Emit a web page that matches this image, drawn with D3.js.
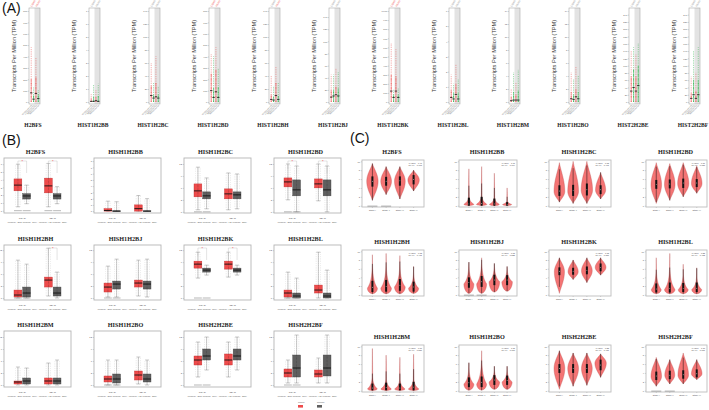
<!DOCTYPE html>
<html><head><meta charset="utf-8">
<script src="https://cdn.jsdelivr.net/npm/d3@7"></script>
<style>body{margin:0;background:#fff}svg{display:block}</style>
</head><body><svg id="c" width="709" height="410"></svg>
<script>
// ================= DATA =================
// Panel A (GEPIA dot plots, TPM)
const genesA = ["H2BFS","HIST1H2BB","HIST1H2BC","HIST1H2BD","HIST1H2BH","HIST1H2BJ","HIST1H2BK","HIST1H2BL","HIST1H2BM","HIST1H2BO","HIST2H2BE","HIST2H2BF"];
const aCancers = ["COAD","READ"];
const aSig = [[1,1],[0,0],[0,0],[1,1],[0,1],[0,0],[1,1],[0,0],[0,0],[0,0],[0,0],[0,0]];
const aYMax = [800,7,140,800,140,150,1000,6,14,14,250,250];
// columns: COAD tumor, COAD normal, READ tumor, READ normal
const aMedian = [[80,25,75,30],[0.05,0.05,0.1,0.05],[10,6,8,6],[100,40,90,40],[4,3,10,4],[8,10,12,10],[120,50,120,50],[0.3,0.2,0.5,0.2],[0.2,0.3,0.3,0.3],[0.5,0.4,0.8,0.5],[30,40,30,45],[10,20,10,20]];
const aDense  = [[200,60,220,70],[0.3,0.4,0.4,0.5],[25,12,30,12],[250,120,280,130],[12,8,30,10],[20,20,25,22],[300,80,280,80],[0.8,0.6,1.2,0.6],[0.8,1.5,1.2,1.8],[1.5,1.2,2,1.5],[70,90,70,100],[25,60,30,60]];
const aMax    = [[480,130,390,110],[0.6,1.3,0.9,1.4],[60,30,70,25],[420,400,480,300],[40,25,55,30],[45,45,55,50],[650,140,580,150],[1.8,1.2,2.5,1.5],[2,4.5,3,5],[4.5,3.5,5.5,4],[140,150,130,160],[70,140,80,150]];
const aXLabels = ["COAD(num=275)","COAD(num=41)","READ(num=92)","READ(num=10)"];

// Panel B (box plots, log2(TPM+1))
const genesB = ["H2BFS","HISH1H2BB","HISH1H2BC","HISH1H2BD","HISH1H2BH","HISH1H2BJ","HISH1H2BK","HISH1H2BL","HISH1H2BM","HISH1H2BO","HISH2H2BE","HISH2H2BF"];
const bDomain = [[-0.3,6.8],[-0.3,8.5],[-0.3,13.5],[-0.3,13.5],[-0.5,13.3],[-0.5,13.3],[-0.5,13.3],[-0.5,13.3],[-0.5,13.5],[-0.5,13.5],[-0.5,13.5],[-0.5,13.5]];
const bTickStep = [1,1,3,3,3,3,3,3,3,3,3,3];
// [lo, q1, median, q3, hi]
const bTumor1 = [[0.5,2.56,3.3,4.1,6.0],[0,0,0.1,0.4,1.6],[0.5,3.75,5.25,7.0,11.2],[3.0,6.25,7.5,8.5,12],[0,0.25,0.75,2,9.5],[0.25,1.5,2.75,3.75,8],[5,7.5,8.5,9.25,11.5],[0,0.25,1.25,2,6.5],[0,0.25,0.75,1,4.5],[0,0.75,1.5,2.25,6.25],[2,5,6.25,7.25,10.75],[0.5,2,3,4,6.25]];
const bNormal1 = [[0.9,1.5,1.9,2.2,3.3],[0,0,0,0.05,1.5],[0.75,3.25,4.0,5.0,8.5],[0,4.0,5.5,8.0,11.5],[0,0.25,1.25,2.75,8.5],[0.25,2.25,3.5,4.25,9.75],[5.75,6.5,7.0,7.5,8.25],[0,0,0.5,1.25,5],[0,0.25,1,1.75,4.25],[0,0.5,1.5,2.75,6.25],[3.75,6.25,7.25,9,12],[0.5,2,4.25,7.5,12.5]];
const bTumor2 = [[0.5,2.3,3.2,4.2,6.1],[0,0,0.4,1.0,2.5],[0.5,3.25,4.5,5.75,9.75],[2.75,6.0,7.0,8.25,12],[0.5,2.75,4.5,5.25,12.5],[0.5,2.75,3.75,4.5,9.5],[5.25,7.25,8.5,9.25,11.5],[0,1.25,2,3.25,11.5],[0,0.25,1,1.75,5.5],[0.25,1.25,2.5,3.5,7],[2,5,6.25,7.75,10.75],[0.5,2,2.75,3.75,6.75]];
const bNormal2 = [[0.9,1.5,1.9,2.2,3.1],[0,0,0,0.05,2],[0.75,3.25,4.25,5.0,9.5],[0,4.0,5.5,8.0,11.5],[0,0.5,1.25,2.75,6.5],[0.25,2.25,3.5,4.25,9.75],[5.75,6.5,7.0,7.5,8.25],[0,0,0.5,1.25,7],[0,0.25,1,1.75,6.25],[0,0.75,1.5,2.75,6.25],[3.75,6.25,7.25,9,12],[0.5,2.25,4.25,7.5,12.5]];
const bSig = [[1,1],[0,0],[0,0],[1,1],[0,1],[0,0],[1,1],[0,0],[0,0],[0,0],[0,0],[0,0]];
const bRug = [[1,1],[0,0],[1,0],[1,0],[1,0],[1,0],[1,0],[1,0],[0,0],[1,0],[1,0],[1,0]];
const bGroups = ["COAD","READ"];
const bGroupNotes = ["(num(T)=275; num(N)=349)","(num(T)=92; num(N)=318)"];
const bLegend = ["Tumor","Normal"];

// Panel C (violin plots by stage)
const genesC = ["H2BFS","HISH1H2BB","HISH1H2BC","HISH1H2BD","HISH1H2BH","HISH1H2BJ","HISH1H2BK","HISH1H2BL","HISH1H2BM","HISH1H2BO","HISH2H2BE","HISH2H2BF"];
const stages = ["Stage I","Stage II","Stage III","Stage IV"];
const cTail = [0,12,0,0,3.5,2.5,0,4,9,3,0,0];
const cMin  = [[1.2,2.5,1.5,3.3],[0,0,0,0],[0.8,0.5,0.5,1.5],[0.5,1.2,2.0,2.8],[0.2,0.2,0.2,0.3],[0.3,0.3,0.6,0.8],[0.3,3.5,2.8,4.5],[0.2,0.2,0.2,0.2],[0,0,0,0],[0.1,0.1,0.3,0.3],[0.3,1.0,1.2,3.0],[1.0,1.5,1.5,2.5]];
const cMode = [[5.5,5.5,5.5,5.8],[0.3,0.3,0.3,0.3],[3.2,3.2,3.5,3.5],[4.7,4.8,5.0,5.0],[1.5,1.5,1.8,1.5],[2.5,2.5,3.0,3.0],[5.3,5.3,5.5,6.3],[1.2,1.2,1.2,1.2],[0.4,0.4,0.4,0.4],[1.5,1.5,2.0,2.0],[5.0,5.0,5.0,6.2],[3.2,3.5,3.5,3.8]];
const cMax  = [[9.5,8.8,8.8,8.0],[8.3,8.8,7.3,4.0],[9.7,10,10,7.5],[9.7,9.5,9.7,9.0],[9.2,9.5,9.0,6.5],[7.5,8.5,7.2,6.5],[8.5,8.0,8.5,8.5],[8.5,9.5,7.0,6.2],[9.5,8.0,7.5,8.2],[6.3,9.0,5.5,5.5],[9.0,8.5,8.5,8.3],[7.5,7.0,8.5,7.0]];
const cQ1   = [[4.3,4.5,4.5,4.8],[0,0,0,0],[2.2,2.2,2.3,2.6],[3.8,3.9,4.0,4.2],[0.6,0.7,0.9,0.7],[1.6,1.8,2.2,2.2],[4.5,4.6,4.7,5.4],[0.5,0.5,0.6,0.6],[0.1,0.1,0.1,0.1],[0.8,0.8,1.3,1.3],[4.0,4.0,4.0,4.6],[2.4,2.6,2.7,3.0]];
const cMed  = [[5.5,5.5,5.6,5.9],[0.4,0.5,0.4,0.2],[3.3,3.4,3.6,3.6],[4.8,4.9,5.1,5.1],[1.7,1.9,2.2,1.8],[2.8,3.0,3.4,3.4],[5.4,5.4,5.6,6.3],[1.3,1.4,1.4,1.5],[0.6,0.7,0.6,0.8],[1.8,1.9,2.4,2.3],[5.0,5.0,5.0,5.8],[3.3,3.5,3.6,3.8]];
const cQ3   = [[6.6,6.5,6.6,6.9],[1.8,2.0,1.6,0.8],[4.6,4.7,5.0,4.6],[5.8,5.9,6.1,6.0],[3.2,3.4,3.6,3.0],[4.0,4.3,4.6,4.5],[6.3,6.2,6.5,7.2],[2.6,2.8,2.7,2.8],[1.6,1.8,1.6,2.0],[3.0,3.2,3.5,3.4],[6.0,6.0,6.0,7.0],[4.3,4.5,4.6,4.8]];
const cWidth= [[0.9,0.85,0.85,0.9],[0.9,0.95,0.9,0.8],[0.85,0.85,0.9,0.8],[0.85,0.85,0.9,0.85],[0.8,0.85,0.85,0.8],[0.85,0.85,0.9,0.9],[0.8,0.8,0.85,0.85],[0.8,0.85,0.8,0.8],[0.8,0.85,0.85,0.85],[0.85,0.85,0.9,0.85],[0.85,0.85,0.85,0.9],[0.85,0.8,0.85,0.85]];
const cRug = [1,0,0,0,0,1,0,0,0,0,0,1];
const cFValue = ["0.47","1.71","0.98","0.36","0.92","0.65","1.08","0.88","0.69","1.05","0.88","1.13"];
const cPValue = ["0.703","0.164","0.401","0.783","0.431","0.585","0.357","0.452","0.559","0.370","0.451","0.336"];

// ================= DRAWING =================
const svg = d3.select("#c");
const serif = "'Liberation Serif','DejaVu Serif',serif";
const sans = "'Liberation Sans','DejaVu Sans',sans-serif";
const RED = "#ee4b4b", GRAY = "#5f5f5f", GREEN = "#2db34a", VIOLIN = "#f47474";
svg.append("rect").attr("width",709).attr("height",410).attr("fill","#fff");

// panel letters
svg.append("text").attr("x",2).attr("y",12.5).text("(A)").attr("font-family",sans).attr("font-size",14).attr("fill","#111");
svg.append("text").attr("x",2).attr("y",145).text("(B)").attr("font-family",sans).attr("font-size",14).attr("fill","#111");
svg.append("text").attr("x",350).attr("y",143).text("(C)").attr("font-family",sans).attr("font-size",14).attr("fill","#111");

function styleAxis(ax, fs){
  ax.select(".domain").remove();
  ax.selectAll("text").attr("font-size",fs).attr("fill","#555").attr("font-family",sans);
  ax.selectAll("line").attr("stroke","#888").attr("stroke-width",0.3);
}

// ---------- Panel A ----------
genesA.forEach((gene,i)=>{
  const x0 = 29 + 60*i, x1 = x0 + 11, yT = 8, yB = 104;
  const g = svg.append("g");
  const y = d3.scaleLinear().domain([0, aYMax[i]]).range([yB-2, yT+3]);
  const x = d3.scaleBand().domain([0,1,2,3]).range([x0+1, x1-0.5]).padding(0.05);
  g.append("rect").attr("x",(x0+x1)/2).attr("y",yT).attr("width",(x1-x0)/2).attr("height",yB-yT).attr("fill","#e3e3e3");
  g.append("rect").attr("x",x0).attr("y",yT).attr("width",x1-x0).attr("height",yB-yT)
    .attr("fill","none").attr("stroke","#aaa").attr("stroke-width",0.6);
  const ax = g.append("g").attr("transform",`translate(${x0},0)`).call(d3.axisLeft(y).ticks(8).tickSize(1.2).tickPadding(0.6));
  styleAxis(ax, 2.3);
  g.append("text").attr("transform",`translate(${x0-13},${(yT+yB)/2}) rotate(-90)`).attr("text-anchor","middle")
    .attr("font-family",sans).attr("font-size",5.6).attr("fill","#333").text("Transcripts Per Million (TPM)");
  [0,1,2,3].forEach(k=>{
    const cx = x(k) + x.bandwidth()/2;
    const col = k%2===0 ? RED : GREEN;
    g.append("line").attr("x1",cx).attr("x2",cx).attr("y1",y(0)).attr("y2",y(aMax[i][k]))
      .attr("stroke",col).attr("stroke-width",0.9).attr("stroke-dasharray","0.7,1.1").attr("opacity",0.7);
    g.append("line").attr("x1",cx).attr("x2",cx).attr("y1",y(0)).attr("y2",y(aDense[i][k]))
      .attr("stroke",col).attr("stroke-width",1).attr("stroke-dasharray","0.8,0.5").attr("opacity",0.95);
    g.append("line").attr("x1",cx-1.2).attr("x2",cx+1.2).attr("y1",y(aMedian[i][k])).attr("y2",y(aMedian[i][k]))
      .attr("stroke","#111").attr("stroke-width",0.8);
    g.append("text").attr("transform",`translate(${cx+1},${yB+1.5}) rotate(-45)`).attr("text-anchor","end")
      .attr("font-family",sans).attr("font-size",1.8).attr("fill","#666").text(aXLabels[k]);
  });
  aCancers.forEach((c,k)=>{
    const cx = x0 + 3 + k*5;
    g.append("text").attr("transform",`translate(${cx},${yT-1}) rotate(-60)`).attr("font-family",sans)
      .attr("font-size",2.6).attr("fill", aSig[i][k] ? "#f06060" : "#999").text(c);
  });
  g.append("text").attr("x",(x0+x1)/2-1.5).attr("y",126.5).attr("text-anchor","middle")
    .attr("font-family",serif).attr("font-weight","bold").attr("font-size",5.6).attr("fill","#222").text(gene);
});

// ---------- Panel B ----------
const bCols = [4,94,184,274], bW = 67;
const bRows = [[158,213],[245,300],[331,387]];
genesB.forEach((gene,i)=>{
  const r = Math.floor(i/4), c = i%4;
  const x0 = bCols[c], x1 = x0 + bW, yT = bRows[r][0], yB = bRows[r][1];
  const g = svg.append("g");
  const y = d3.scaleLinear().domain(bDomain[i]).range([yB, yT]);
  const xg = d3.scaleBand().domain(bGroups).range([x0, x1]).paddingOuter(0.3).paddingInner(0.4);
  const xi = d3.scaleBand().domain(["T","N"]).range([0, xg.bandwidth()]).padding(0.1);
  g.append("rect").attr("x",x0).attr("y",yT).attr("width",bW).attr("height",yB-yT)
    .attr("fill","#fff").attr("stroke","#b5b5b5").attr("stroke-width",0.9);
  const ticks = d3.range(0, bDomain[i][1], bTickStep[i]);
  const ax = g.append("g").attr("transform",`translate(${x0},0)`).call(d3.axisLeft(y).tickValues(ticks).tickSize(1.2).tickPadding(0.8));
  styleAxis(ax, 2.4);
  g.append("text").attr("x",(x0+x1)/2-2).attr("y",yT-4).attr("text-anchor","middle")
    .attr("font-family",serif).attr("font-weight","bold").attr("font-size",6.2).attr("fill","#222").text(gene);
  const sets = [[bTumor1[i],bNormal1[i]],[bTumor2[i],bNormal2[i]]];
  bGroups.forEach((grp,gi)=>{
    ["T","N"].forEach((t,ti)=>{
      const d = sets[gi][ti];
      const cx = xg(grp) + xi(t) + xi.bandwidth()/2, bw = xi.bandwidth();
      const fill = ti===0 ? RED : GRAY;
      [-2.2,0,2.2].forEach(o=>{
        g.append("line").attr("x1",cx+o).attr("x2",cx+o).attr("y1",y(d[0])).attr("y2",y(d[4]))
          .attr("stroke","#999").attr("stroke-width",0.5).attr("stroke-dasharray","0.5,1.3").attr("opacity",0.7);
      });
      g.append("line").attr("x1",cx).attr("x2",cx).attr("y1",y(d[0])).attr("y2",y(d[4]))
        .attr("stroke","#777").attr("stroke-width",0.4);
      [d[0],d[4]].forEach(v=>g.append("line").attr("x1",cx-2).attr("x2",cx+2).attr("y1",y(v)).attr("y2",y(v)).attr("stroke","#777").attr("stroke-width",0.4));
      g.append("rect").attr("x",cx-bw/2).attr("y",y(d[3])).attr("width",bw).attr("height",Math.max(0.6,y(d[1])-y(d[3])))
        .attr("fill",fill).attr("stroke",ti===0?"#c03030":"#444").attr("stroke-width",0.4);
      g.append("line").attr("x1",cx).attr("x2",cx).attr("y1",y(d[1])).attr("y2",y(d[3]))
        .attr("stroke","#222").attr("stroke-width",0.6).attr("stroke-dasharray","0.6,0.8").attr("opacity",0.6);
      g.append("line").attr("x1",cx-bw/2).attr("x2",cx+bw/2).attr("y1",y(d[2])).attr("y2",y(d[2]))
        .attr("stroke","#111").attr("stroke-width",0.9);
      if (bRug[i][gi]) g.append("line").attr("x1",cx-bw/2).attr("x2",cx+bw/2).attr("y1",y(0)).attr("y2",y(0))
        .attr("stroke","#888").attr("stroke-width",0.6);
    });
    const gc = xg(grp) + xg.bandwidth()/2;
    g.append("text").attr("x",gc).attr("y",yB+6).attr("text-anchor","middle").attr("font-family",sans)
      .attr("font-size",2.4).attr("fill","#555").text(grp);
    g.append("text").attr("x",gc).attr("y",yB+9.5).attr("text-anchor","middle").attr("font-family",sans)
      .attr("font-size",2.4).attr("fill","#555").text(bGroupNotes[gi]);
    if (bSig[i][gi]) {
      const ax1 = xg(grp) + xi("T") + xi.bandwidth()/2, ax2 = xg(grp) + xi("N") + xi.bandwidth()/2;
      const yy = yT + 3;
      g.append("path").attr("d",`M${ax1},${yy+8}V${yy}H${ax2}V${yy+12}`).attr("fill","none").attr("stroke","#bbb").attr("stroke-width",0.4);
      g.append("text").attr("x",(ax1+ax2)/2).attr("y",yy+1.8).attr("text-anchor","middle").attr("font-family",sans)
        .attr("font-size",4).attr("fill","#f03c3c").text("*");
    }
  });
});
bLegend.forEach((t,k)=>{
  const lx = 298 + k*19;
  svg.append("text").attr("x",lx).attr("y",403).attr("font-family",sans).attr("font-size",2.3).attr("fill","#666").text(t);
  svg.append("rect").attr("x",lx).attr("y",405).attr("width",5).attr("height",2.6).attr("fill",k===0?RED:GRAY);
});

// ---------- Panel C ----------
const cCols = [[362,424],[459,517],[549,611],[646,707]];
const cRows = [[160,207],[250,296],[345,392]];
function prof(v, mn, md, mx, tail){
  if (v <= md) {
    const u = md>mn ? (v-mn)/(md-mn) : 1;
    return tail>0 ? Math.pow(Math.sin(u*Math.PI/2),0.5) : Math.pow(Math.sin(u*Math.PI/2),1.2);
  }
  const u = (v-md)/(mx-md);
  if (tail>0) return Math.max(Math.exp(-tail*u)*(1-u), 0.08*(1-u));
  return Math.pow(Math.cos(u*Math.PI/2),1.25);
}
genesC.forEach((gene,i)=>{
  const r = Math.floor(i/4), c = i%4;
  const x0 = cCols[c][0], x1 = cCols[c][1], yT = cRows[r][0], yB = cRows[r][1];
  const g = svg.append("g");
  const y = d3.scaleLinear().domain([-0.3,10.3]).range([yB, yT]);
  const x = d3.scaleBand().domain(stages).range([x0+3, x1-3]).padding(0.08);
  g.append("rect").attr("x",x0).attr("y",yT).attr("width",x1-x0).attr("height",yB-yT)
    .attr("fill","#fff").attr("stroke","#bdbdbd").attr("stroke-width",0.9);
  const ax = g.append("g").attr("transform",`translate(${x0},0)`).call(d3.axisLeft(y).tickValues([0,2,4,6,8,10]).tickSize(1.2).tickPadding(0.8));
  styleAxis(ax, 2.3);
  const xa = g.append("g").attr("transform",`translate(0,${yB})`).call(d3.axisBottom(x).tickSize(1).tickPadding(1.5));
  styleAxis(xa, 2.2);
  g.append("text").attr("x",(x0+x1)/2-1).attr("y",yT-6.5).attr("text-anchor","middle")
    .attr("font-family",serif).attr("font-weight","bold").attr("font-size",6.2).attr("fill","#222").text(gene);
  g.append("text").attr("x",x1-2).attr("y",yT+3.5).attr("text-anchor","end").attr("font-family",sans)
    .attr("font-size",2.1).attr("fill","#444").text("F value = " + cFValue[i]);
  g.append("text").attr("x",x1-2).attr("y",yT+6).attr("text-anchor","end").attr("font-family",sans)
    .attr("font-size",2.1).attr("fill","#444").text("Pr(>F) = " + cPValue[i]);
  stages.forEach((s,k)=>{
    const cx = x(s) + x.bandwidth()/2, W = cWidth[i][k]*x.bandwidth()/2;
    const mn = cMin[i][k], md = cMode[i][k], mx = cMax[i][k];
    const vals = d3.range(0,61).map(j => mn + (mx-mn)*j/60);
    const area = d3.area().curve(d3.curveBasis)
      .y(v => y(v)).x0(v => cx - W*prof(v,mn,md,mx,cTail[i])).x1(v => cx + W*prof(v,mn,md,mx,cTail[i]));
    g.append("path").attr("d",area(vals)).attr("fill",VIOLIN).attr("stroke","#b84848").attr("stroke-width",0.35);
    const q1 = cQ1[i][k], q3 = cQ3[i][k], iqr = q3-q1;
    const lo = Math.max(mn, q1-1.5*iqr), hi = Math.min(mx, q3+1.5*iqr);
    g.append("line").attr("x1",cx).attr("x2",cx).attr("y1",y(lo)).attr("y2",y(hi)).attr("stroke","#111").attr("stroke-width",0.5);
    g.append("rect").attr("x",cx-1).attr("y",y(q3)).attr("width",2).attr("height",Math.max(0.5,y(q1)-y(q3))).attr("fill","#111");
    g.append("circle").attr("cx",cx).attr("cy",y(cMed[i][k])).attr("r",0.45).attr("fill","#eee");
    if (cRug[i] && k<2) g.append("line").attr("x1",cx-5).attr("x2",cx+5).attr("y1",y(-0.1)).attr("y2",y(-0.1))
      .attr("stroke","#777").attr("stroke-width",0.6);
  });
});
</script>
</body></html>
